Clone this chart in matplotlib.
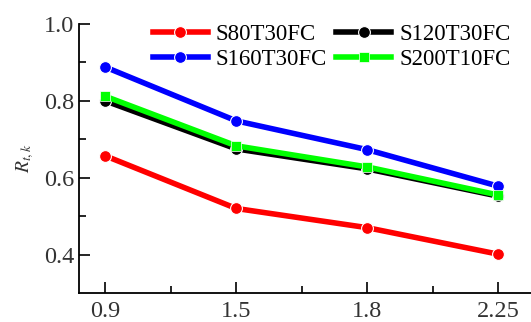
import numpy as np
import matplotlib.pyplot as plt

# x categories and the four series
x_labels = ["0.9", "1.5", "1.8", "2.25"]
s80 = [0.657, 0.520, 0.470, 0.401]
s120 = [0.800, 0.675, 0.623, 0.552]
s160 = [0.888, 0.748, 0.673, 0.578]
s200 = [0.812, 0.683, 0.628, 0.555]

plt.rcParams["font.family"] = ["Liberation Serif", "DejaVu Serif"]
plt.rcParams["mathtext.fontset"] = "stix"

fig = plt.figure(figsize=(5.31, 3.22), dpi=100)
ax = fig.add_axes([79 / 531, 29 / 322, 1 - 79 / 531, (293 - 24) / 322])

xs = np.arange(len(x_labels))
style = dict(lw=4, ms=8.5, mec="white", mew=0.8)
l80, = ax.plot(xs, s80, "-o", color="#ff0000", label="S80T30FC", **style)
l120, = ax.plot(xs, s120, "-o", color="#000000", label="S120T30FC", **style)
l160, = ax.plot(xs, s160, "-o", color="#0000ff", label="S160T30FC", **style)
l200, = ax.plot(xs, s200, "-s", color="#00ff00", label="S200T10FC", lw=4, ms=7.5, mec="white", mew=0.5)

ax.set_xlim(-0.2, 3.25)
ax.set_ylim(0.3, 1.0)
ax.set_xticks(xs)
ax.set_xticklabels(x_labels)
ax.set_xticks(xs[:-1] + 0.5, minor=True)
ax.set_yticks([0.4, 0.6, 0.8, 1.0])
ax.set_yticks([0.5, 0.7, 0.9], minor=True)

ax.tick_params(which="both", direction="in", labelsize=17.5, labelcolor="#333333", width=1.2)
ax.tick_params(which="major", length=8)
ax.tick_params(which="minor", length=5)
ax.tick_params(axis="x", pad=6)
for side in ["top", "right"]:
    ax.spines[side].set_visible(False)
for side in ["left", "bottom"]:
    ax.spines[side].set_linewidth(1.3)

ax.set_ylabel(r"$R_{t,k}$", fontsize=14, color="#333333", labelpad=6)

# legend is filled column-wise, so order the handles to get S80/S120 on the first row
ax.legend([l80, l160, l120, l200], ["S80T30FC", "S160T30FC", "S120T30FC", "S200T10FC"],
          ncol=2, loc="upper right", bbox_to_anchor=(0.985, 1.05), frameon=False,
          fontsize=16.5, handlelength=2.4, handletextpad=0.35, columnspacing=0.4,
          labelspacing=0.15, borderaxespad=0.2)

fig.savefig("out.png", dpi=100)
